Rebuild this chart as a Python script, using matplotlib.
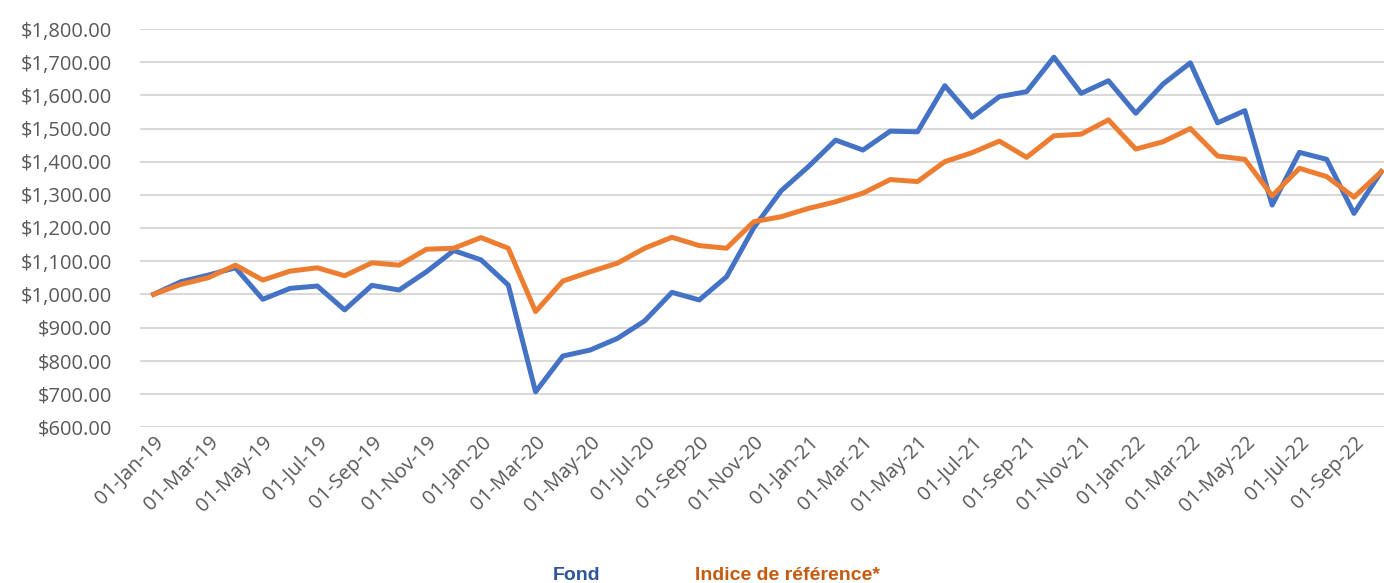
#!/usr/bin/env python3
import matplotlib
matplotlib.use("Agg")
import matplotlib.pyplot as plt
import pandas as pd

# monthly values, Jan 2019 -> Oct 2022
months = pd.date_range("2019-01-01", periods=46, freq="MS")

fond = [1000, 1038, 1058, 1080, 985, 1018, 1025, 953, 1027, 1013,
        1068, 1132, 1104, 1028, 706, 814, 832, 867, 920, 1006,
        983, 1053, 1201, 1312, 1385, 1465, 1435, 1492, 1490, 1629,
        1534, 1596, 1611, 1715, 1606, 1644, 1546, 1634, 1698, 1517,
        1554, 1269, 1428, 1407, 1244, 1370]

indice = [1000, 1030, 1050, 1088, 1043, 1070, 1080, 1056, 1095, 1088,
          1136, 1139, 1171, 1139, 948, 1040, 1068, 1094, 1139, 1172,
          1147, 1139, 1219, 1234, 1259, 1279, 1305, 1346, 1340, 1400,
          1427, 1462, 1413, 1478, 1483, 1526, 1438, 1460, 1500, 1417,
          1407, 1297, 1380, 1355, 1293, 1370]

yticks = list(range(600, 1801, 100))

fig = plt.figure(figsize=(13.84, 5.83), dpi=100)
ax = fig.add_axes([140 / 1384, 156 / 583, 1244 / 1384, 398 / 583])

x = list(range(len(months)))
ax.plot(x, fond, color="#4472C4", lw=3.6, solid_joinstyle="round", zorder=3)
ax.plot(x, indice, color="#ED7D31", lw=3.6, solid_joinstyle="round", zorder=4)

ax.set_xlim(-0.5, 45.1)
ax.set_ylim(600, 1800)
ax.set_yticks(yticks)
ax.set_yticklabels([f"${v:,.2f}" for v in yticks])
ax.yaxis.grid(True, color="#D9D9D9", lw=1.5)
ax.set_axisbelow(True)

tick_pos = x[::2]
ax.set_xticks(tick_pos)
ax.set_xticklabels([months[i].strftime("%d-%b-%y") for i in tick_pos],
                   rotation=45, ha="right", rotation_mode="anchor")

for s in ax.spines.values():
    s.set_visible(False)
ax.tick_params(axis="both", length=0, colors="#595959", labelsize=14.5)
ax.tick_params(axis="y", pad=20)
ax.tick_params(axis="x", pad=4)
for lab in ax.get_xticklabels() + ax.get_yticklabels():
    lab.set_family(["Open Sans", "DejaVu Sans"])

# legend as plain coloured text (bottom slightly cut, as in the original)
leg_font = ["Liberation Sans Narrow", "Liberation Sans", "DejaVu Sans"]
fig.text(553 / 1384, 16 / 583, "Fond", color="#2F5597", fontsize=14,
         fontweight="bold", family=leg_font, va="top")
fig.text(695 / 1384, 16 / 583, "Indice de référence*", color="#C55A11",
         fontsize=14, fontweight="bold", family=leg_font, va="top")

fig.savefig("out.png", dpi=100)
